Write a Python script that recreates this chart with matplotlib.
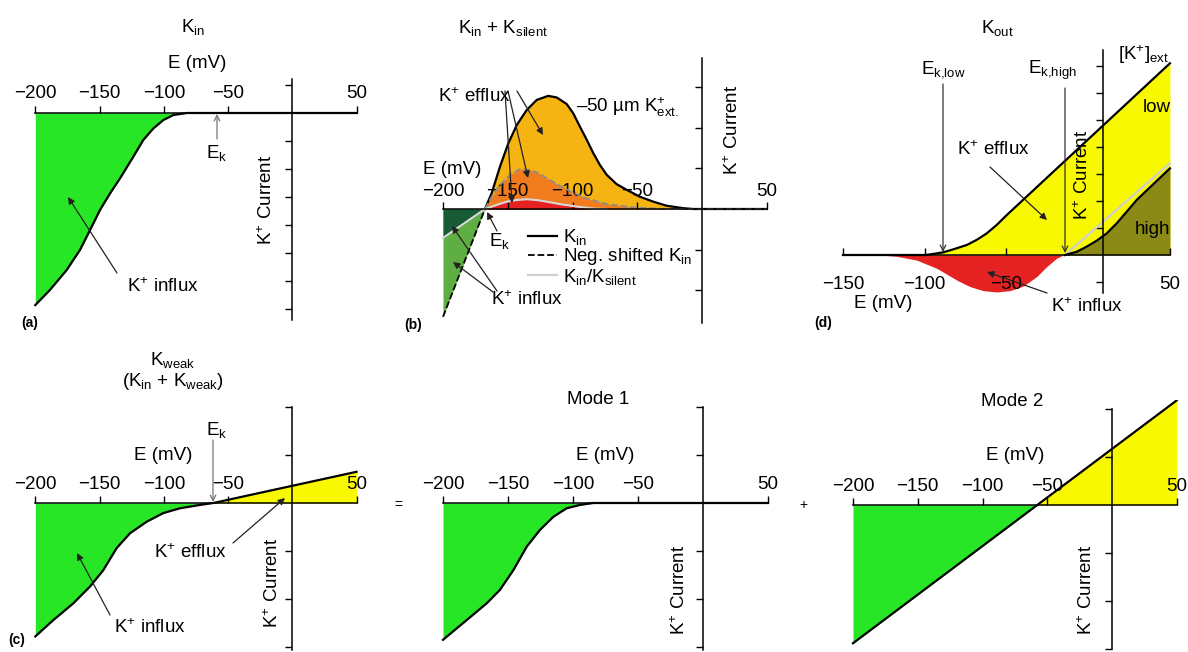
import numpy as np
import matplotlib
matplotlib.use('Agg')
import matplotlib.pyplot as plt
from matplotlib.transforms import Affine2D
from matplotlib.lines import Line2D
from matplotlib.patches import FancyArrowPatch

# --- data (E in mV, current in tick units) ---
# (a) K_in
a_E = [-200, -188.6, -175.6, -165.2, -157.4, -149.6, -141.8, -134, -123.7,
       -115.9, -108.1, -100.3, -92.4, -82, 50]
a_I = [-6.86, -6.32, -5.61, -4.89, -4.18, -3.46, -2.87, -2.33, -1.56,
       -0.96, -0.55, -0.25, -0.07, 0, 0]

# (b) K_in + K_silent
b_kin_E = [-167.6, -162.4, -156, -149.6, -143.1, -135.4, -127.6, -118.7, -112.2,
           -104.5, -99.4, -94.2, -89, -83.9, -78.8, -73.6, -65.9, -58.1, -47.9,
           -37.6, -27.3, -14.4, -6.7, 50]
b_kin_I = [0, 0.39, 1.04, 1.61, 2.06, 2.43, 2.68, 2.78, 2.74,
           2.58, 2.35, 2.02, 1.70, 1.37, 1.08, 0.84, 0.61, 0.47, 0.30,
           0.18, 0.08, 0.02, 0, 0]
b_shift_E = [-167.6, -162.4, -156, -148.3, -140.5, -132.8, -125.1, -117.4, -109.7,
             -99.4, -89, -73.6, -53, -27.3, 50]
b_shift_I = [0, 0.30, 0.59, 0.84, 0.98, 0.96, 0.86, 0.71, 0.57,
             0.40, 0.26, 0.12, 0.04, 0, 0]
b_silent_E = [-167.6, -158.6, -150.8, -143.1, -135.4, -127.6, -119.9, -109.7,
              -96.8, -83.9, -73.6]
b_silent_I = [0, 0.10, 0.18, 0.22, 0.24, 0.22, 0.18, 0.12, 0.06, 0.01, 0]
b_neg_E = [-200, -167.6]
b_shift_neg_I = [-2.65, 0]
b_silent_neg_I = [-0.71, 0]

# (d) K_out
d_low_E = [-150, -99.8, -94.7, -88.6, -82.5, -74.3, -68.2, -62.1, -56, -49.8, 50]
d_low_I = [0, 0, 0.04, 0.10, 0.21, 0.37, 0.56, 0.80, 1.11, 1.48, 7.1]
d_high_E = [-14.2, -7, -0.9, 5.2, 11.3, 17.4, 23.5, 29.7, 50]
d_high_I = [0, 0.12, 0.31, 0.53, 0.80, 1.17, 1.60, 2.04, 3.21]
d_gray_E = [-14.2, 50]
d_gray_I = [0, 3.4]
d_in_E = [-128, -117, -104.9, -92.7, -80.4, -72.3, -64.2, -56, -47.8, -39.7,
          -31.5, -25.4, -19.3, -15.2]
d_in_I = [0, -0.05, -0.19, -0.49, -0.93, -1.17, -1.32, -1.37, -1.32, -1.15,
          -0.80, -0.43, -0.12, 0]

# (c) K_weak, Mode 1, Mode 2
c_E = [-200, -186, -170.4, -157.4, -147.1, -136.7, -126.3, -113.3, -100.4,
       -87.4, -71.8, -61.4, 50]
c_I = [-2.78, -2.44, -2.09, -1.74, -1.40, -0.94, -0.63, -0.39, -0.21,
       -0.11, -0.04, 0, 0.65]
m1_E = [-200, -181.8, -166.4, -156.2, -145.9, -135.6, -125.4, -115.2, -104.9,
        -94.6, -84.4, 50]
m1_I = [-2.85, -2.44, -2.09, -1.81, -1.40, -0.91, -0.56, -0.29, -0.11,
        -0.04, 0, 0]
m2_E = [-200, 50]
m2_I = [-2.88, 2.18]

tick_E = [-200, -150, -100, -50, 50]
tick_lab = ['\u2212200', '\u2212150', '\u2212100', '\u221250', '50']
d_tick_E = [-150, -100, -50, 50]
d_tick_lab = ['\u2212150', '\u2212100', '\u221250', '50']

GREEN = '#26e626'
YELLOW = '#f8f800'
GOLD = '#f6b412'
ORANGE = '#f07c1e'
RED = '#e42222'
DKGREEN = '#175c35'
LTGREEN = '#5fae44'
OLIVE = '#8c8a16'

plt.rcParams['font.family'] = 'Liberation Sans'
plt.rcParams['mathtext.fontset'] = 'custom'
plt.rcParams['mathtext.rm'] = 'Liberation Sans'
plt.rcParams['mathtext.it'] = 'Liberation Sans:italic'
plt.rcParams['mathtext.bf'] = 'Liberation Sans:bold'
plt.rcParams['font.size'] = 13.5

W, H = 1188, 652
fig = plt.figure(figsize=(W / 100, H / 100), dpi=100)
PX = Affine2D().scale(1 / W, -1 / H).translate(0, 1) + fig.transFigure


def panel(box, x0, sx, y0, sy):
    l, t, r, b = box
    ax = fig.add_axes([l / W, 1 - b / H, (r - l) / W, (b - t) / H])
    ax.set_xlim((l - x0) / sx, (r - x0) / sx)
    ax.set_ylim((y0 - b) / sy, (y0 - t) / sy)
    ax.patch.set_visible(False)
    return ax


def cross_axes(ax, xt, xl, xspan, yt, yspan, yat=0, above=True, pad=4):
    ax.spines['right'].set_visible(False)
    ax.spines['left'].set_position(('data', yat))
    ax.spines['left'].set_bounds(*yspan)
    if above:
        ax.spines['bottom'].set_visible(False)
        xs = ax.spines['top']
        ax.xaxis.tick_top()
        d = 'out'
    else:
        ax.spines['top'].set_visible(False)
        xs = ax.spines['bottom']
        d = 'in'
    xs.set_position(('data', 0))
    xs.set_bounds(*xspan)
    ax.set_xticks(xt, xl)
    ax.set_yticks(yt, [])
    ax.tick_params(axis='x', direction=d, length=5, width=1, pad=pad, labelsize=13.5)
    ax.tick_params(axis='y', direction='out', length=5, width=1)
    for s in ax.spines.values():
        s.set_linewidth(1.1)


def txt(x, y, s, **kw):
    kw.setdefault('ha', 'center')
    kw.setdefault('va', 'center')
    fig.text(x, y, s, transform=PX, **kw)


def arrow(p0, p1, style='-|>', color='#222222', lw=0.9):
    fig.add_artist(FancyArrowPatch(p0, p1, transform=PX, arrowstyle=style,
                                   mutation_scale=10, color=color, lw=lw,
                                   shrinkA=0, shrinkB=0))


# ---------- (a) ----------
ax = panel((20, 45, 380, 330), 292.3, 1.285, 113, 28)
cross_axes(ax, tick_E, tick_lab, (-200, 50), [1, -1, -2, -3, -4, -5, -6, -7], (-7.4, 1.2), pad=3)
ax.fill_between(a_E, a_I, 0, color=GREEN, lw=0)
ax.plot(a_E, a_I, color='k', lw=1.6)
txt(193, 27, r'K$_{\mathrm{in}}$')
txt(197, 63, 'E (mV)')
txt(217, 153, r'E$_{\mathrm{k}}$')
arrow((217, 139), (217, 114), style='->', color='#777777')
txt(163, 287, r'K$^{+}$ influx')
arrow((117, 273), (68, 197))
txt(267, 200, r'K$^{+}$ Current', rotation=90)
txt(30, 323, '(a)', fontsize=10, fontweight='bold')

# ---------- (b) ----------
ax = panel((420, 45, 790, 330), 702, 1.295, 209, 40.7)
cross_axes(ax, tick_E, tick_lab, (-200, 50), [3, 2, 1, -1, -2], (-2.8, 3.7), pad=1.5)
ax.fill_between(b_kin_E, b_kin_I, 0, color=GOLD, lw=0)
ax.fill_between(b_shift_E, b_shift_I, 0, color=ORANGE, lw=0)
ax.fill_between(b_silent_E, b_silent_I, 0, color=RED, lw=0)
ax.fill_between(b_neg_E, b_shift_neg_I, 0, color=LTGREEN, lw=0)
ax.fill_between(b_neg_E, b_silent_neg_I, 0, color=DKGREEN, lw=0)
ax.plot(b_kin_E, b_kin_I, color='k', lw=1.6)
ax.plot(b_shift_E, b_shift_I, color='#8c8c8c', lw=1.3, ls='--')
ax.plot(b_neg_E, b_shift_neg_I, color='k', lw=1.3, ls='--')
ax.plot(b_silent_E, b_silent_I, color='#d8d8d8', lw=1.5)
ax.plot(b_neg_E, b_silent_neg_I, color='#d8d8d8', lw=1.5)
handles = [Line2D([], [], color='k', lw=1.6),
           Line2D([], [], color='k', lw=1.3, ls='--'),
           Line2D([], [], color='#d0d0d0', lw=1.6)]
ax.legend(handles, [r'K$_{\mathrm{in}}$', r'Neg. shifted K$_{\mathrm{in}}$',
                    r'K$_{\mathrm{in}}$/K$_{\mathrm{silent}}$'],
          loc='upper left', bbox_to_anchor=(519 / W, 1 - 218 / H),
          bbox_transform=fig.transFigure, frameon=False, handlelength=1.5,
          handletextpad=0.35, labelspacing=-0.05, borderpad=0, fontsize=13.5)
txt(503, 28, r'K$_{\mathrm{in}}$ + K$_{\mathrm{silent}}$')
txt(474, 97, r'K$^{+}$ efflux')
arrow((517, 91), (543, 135))
arrow((508, 91), (528, 178))
arrow((505, 91), (512, 203))
txt(576, 107, '\u201350 µm K$^{+}_{\\mathrm{ext.}}$', ha='left')
txt(452, 170, 'E (mV)')
txt(500, 241, r'E$_{\mathrm{k}}$')
arrow((497, 231), (487, 212))
txt(527, 300, r'K$^{+}$ influx')
arrow((497, 291), (452, 226))
arrow((493, 292), (453, 262))
txt(733, 130, r'K$^{+}$ Current', rotation=90)
txt(413, 325, '(b)', fontsize=10, fontweight='bold')

# ---------- (d) ----------
ax = panel((820, 40, 1185, 330), 1088.2, 1.635, 255, 27)
cross_axes(ax, d_tick_E, d_tick_lab, (-150, 50), [7, 6, 5, 4, 3, 2, 1, -1], (-1.4, 7.6),
           yat=9, above=False, pad=15)
ax.fill_between(d_low_E, d_low_I, 0, color=YELLOW, lw=0)
ax.fill_between(d_high_E, d_high_I, 0, color=OLIVE, lw=0)
ax.fill_between(d_in_E, d_in_I, 0, color=RED, lw=0)
ax.plot(d_gray_E, d_gray_I, color='#cfcfcf', lw=1.6)
ax.plot(d_low_E, d_low_I, color='k', lw=1.6)
ax.plot(d_high_E, d_high_I, color='k', lw=1.6)
txt(997, 28, r'K$_{\mathrm{out}}$')
txt(943, 70, r'E$_{\mathrm{k{,}low}}$')
arrow((943, 84), (943, 252), style='->', color='#333333')
txt(1052, 70, r'E$_{\mathrm{k{,}high}}$')
arrow((1065, 88), (1065, 253), style='->', color='#333333')
txt(1143, 55, r'[K$^{+}$]$_{\mathrm{ext}}$')
txt(1157, 108, 'low')
txt(1152, 230, 'high')
txt(993, 150, r'K$^{+}$ efflux')
arrow((990, 167), (1047, 220))
txt(1087, 307, r'K$^{+}$ influx')
arrow((1047, 293), (987, 272))
txt(1083, 175, r'K$^{+}$ Current', rotation=90)
txt(883, 304, 'E (mV)')
txt(823, 323, '(d)', fontsize=10, fontweight='bold')

# ---------- (c) ----------
ax = panel((10, 400, 385, 652), 292.3, 1.285, 503, 48)
cross_axes(ax, tick_E, tick_lab, (-200, 50), [2, 1, -1, -2, -3], (-3.06, 2.0), pad=2.5)
cI = np.array(c_I)
ax.fill_between(c_E, c_I, 0, where=cI <= 0, interpolate=True, color=GREEN, lw=0)
ax.fill_between(c_E, c_I, 0, where=cI >= 0, interpolate=True, color=YELLOW, lw=0)
ax.plot(c_E, c_I, color='k', lw=1.6)
txt(173, 360, r'K$_{\mathrm{weak}}$')
txt(173, 382, r'(K$_{\mathrm{in}}$ + K$_{\mathrm{weak}}$)')
txt(163, 455, 'E (mV)')
txt(217, 430, r'E$_{\mathrm{k}}$')
arrow((213, 440), (213, 502), style='->', color='#777777')
txt(190, 553, r'K$^{+}$ efflux')
arrow((233, 543), (285, 498))
txt(150, 628, r'K$^{+}$ influx')
arrow((110, 615), (77, 553))
txt(273, 583, r'K$^{+}$ Current', rotation=90)
txt(17, 640, '(c)', fontsize=10, fontweight='bold')
txt(398, 505, '=', fontsize=10)

# ---------- Mode 1 ----------
ax = panel((420, 400, 790, 652), 703, 1.3, 503, 48)
cross_axes(ax, tick_E, tick_lab, (-200, 50), [2, 1, -1, -2, -3], (-3.06, 2.0), pad=2.5)
ax.fill_between(m1_E, m1_I, 0, color=GREEN, lw=0)
ax.plot(m1_E, m1_I, color='k', lw=1.6)
txt(598, 400, 'Mode 1')
txt(605, 455, 'E (mV)')
txt(680, 590, r'K$^{+}$ Current', rotation=90)
txt(803, 505, '+', fontsize=10)

# ---------- Mode 2 ----------
ax = panel((830, 400, 1185, 652), 1112, 1.295, 505, 48)
cross_axes(ax, tick_E, tick_lab, (-200, 50), [2, 1, -1, -2, -3], (-3.0, 2.0), pad=2.5)
mI = np.array(m2_I)
ax.fill_between(m2_E, m2_I, 0, where=mI <= 0, interpolate=True, color=GREEN, lw=0)
ax.fill_between(m2_E, m2_I, 0, where=mI >= 0, interpolate=True, color=YELLOW, lw=0)
ax.plot(m2_E, m2_I, color='k', lw=1.6)
txt(1012, 402, 'Mode 2')
txt(1015, 455, 'E (mV)')
txt(1087, 590, r'K$^{+}$ Current', rotation=90)

fig.savefig('out.png', dpi=100)
